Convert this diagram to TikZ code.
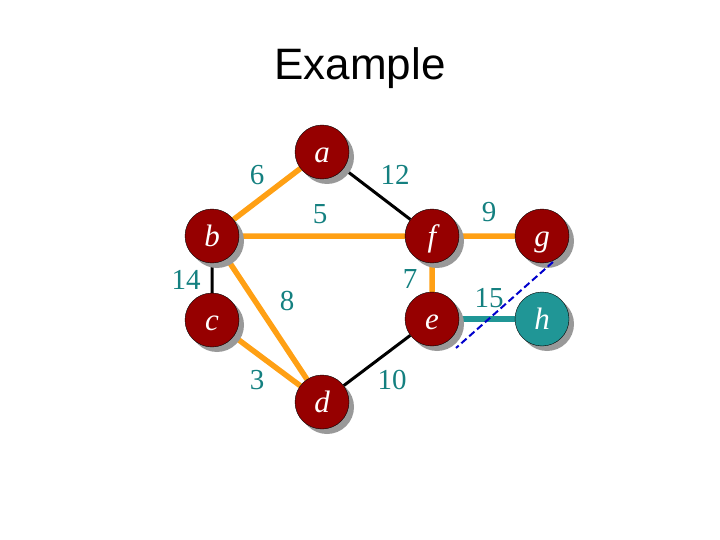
\documentclass[tikz,border=0pt]{standalone}
\usepackage{fontspec}
\setmainfont{Liberation Serif}
\setsansfont{Liberation Sans}
\usetikzlibrary{shadows,backgrounds}
\definecolor{nodered}{RGB}{150,0,0}
\definecolor{nodeteal}{RGB}{32,150,150}
\definecolor{wtteal}{RGB}{20,128,128}
\definecolor{edgeorange}{RGB}{255,160,20}
\begin{document}
\begin{tikzpicture}[x=1pt,y=-1pt,
 vert/.style={circle,draw=black,thin,fill=nodered,minimum size=54pt,inner sep=0pt,
   text=white,font=\fontsize{31}{31}\selectfont\itshape,text height=20.5pt,text depth=0pt,
   drop shadow={shadow xshift=5pt,shadow yshift=-5pt,fill=gray!80,opacity=1}},
 wt/.style={text=wtteal,font=\fontsize{29}{29}\selectfont},
 tree/.style={edgeorange,line width=5.5pt},
 plain/.style={black,line width=3pt}]
\useasboundingbox (0,0) rectangle (720,540);
\node[font=\sffamily\fontsize{44}{44}\selectfont] (title) at (360,68) {Example};
\node[vert] (a) at (322,152) {a};
\node[vert] (b) at (212,236) {b};
\node[vert] (c) at (212,320) {c};
\node[vert] (d) at (322,402) {d};
\node[vert] (e) at (432,319) {e};
\node[vert] (f) at (432,236) {f};
\node[vert] (g) at (542,236) {g};
\node[vert,fill=nodeteal] (h) at (542,319) {h};
\begin{scope}[on background layer]
\draw[tree] (a)--(b) (b)--(f) (b)--(d) (c)--(d) (f)--(e) (f)--(g);
\draw[plain] (a)--(f) (b)--(c) (d)--(e);
\draw[nodeteal,line width=5.5pt] (e)--(h);
\end{scope}
\node[wt] (w6) at (257,175) {6};
\node[wt] (w12) at (395,175) {12};
\node[wt] (w5) at (320,214) {5};
\node[wt] (w9) at (489,212) {9};
\node[wt] (w14) at (186,280) {14};
\node[wt] (w7) at (410,279) {7};
\node[wt] (w8) at (287,301) {8};
\node[wt] (w15) at (489,298) {15};
\node[wt] (w3) at (257,380) {3};
\node[wt] (w10) at (392,380) {10};
\coordinate (cut1) at (553,262);
\coordinate (cut2) at (456,348);
\draw[blue!80!black,line width=2pt,dash pattern=on 7pt off 3.5pt] (cut1)--(cut2);
\end{tikzpicture}
\end{document}
